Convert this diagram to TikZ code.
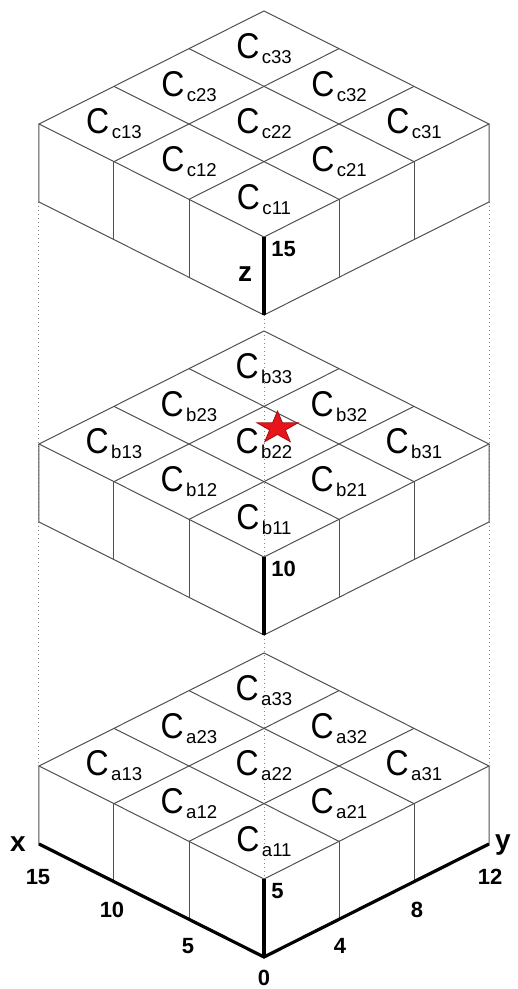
\documentclass[tikz,border=0pt]{standalone}
\usepackage{fontspec}
\setmainfont{Liberation Sans}
\usepackage{graphicx}
\usepackage{tikz}
\definecolor{edg}{HTML}{505050}
\definecolor{strred}{HTML}{E8141B}
\newcommand{\cname}[1]{\scalebox{1}[1.12]{\fontsize{16}{16}\selectfont C}\kern1.2pt\raisebox{-2.5pt}{\fontsize{9.3}{9.3}\selectfont #1}}

\begin{document}
\begin{tikzpicture}[x={(-37.5pt,18.833pt)},y={(37.5pt,18.833pt)},z={(0pt,39pt)},
 edge/.style={edg,line width=0.5pt},
 thk/.style={black,line width=1.6pt},
 hid/.style={edg!70,line width=0.5pt,dash pattern=on 0.5pt off 1.5pt},
 num/.style={font=\bfseries\fontsize{11}{11}\selectfont,inner sep=0pt},
 axl/.style={font=\bfseries\fontsize{14}{14}\selectfont,inner sep=0pt}]
 \useasboundingbox (-132pt,-16pt) rectangle (127pt,478.5pt);
 % corners of the three slabs
 \foreach \s/\h in {a/0,b/161,c/321}{
  \begin{scope}[yshift=\h pt]
   \coordinate (\s-l0) at (3,0,0); \coordinate (\s-l1) at (3,0,1);
   \coordinate (\s-r0) at (0,3,0); \coordinate (\s-r1) at (0,3,1);
   \coordinate (\s-f0) at (0,0,0); \coordinate (\s-f1) at (0,0,1);
  \end{scope}}
 % hidden verticals
 \draw[hid] (c-l0) -- (a-l1);
 \draw[hid] (c-r0) -- (a-r1);
 \draw[hid] (c-f0) -- (a-f1);
 % slabs
 \foreach \s/\h/\zv in {a/0/5,b/161/10,c/321/15}{
  \begin{scope}[yshift=\h pt]
   \draw[edge] (0,0,1) -- (3,0,1) -- (3,3,1) -- (0,3,1) -- cycle;
   \foreach \k in {1,2}{
    \draw[edge] (\k,0,1) -- (\k,3,1);
    \draw[edge] (0,\k,1) -- (3,\k,1);
    \draw[edge] (\k,0,0) -- (\k,0,1);
    \draw[edge] (0,\k,0) -- (0,\k,1);}
   \draw[edge] (3,0,1) -- (3,0,0) -- (0,0,0) -- (0,3,0) -- (0,3,1);
   \draw[thk] (0,0,0) -- (0,0,1);
   \foreach \i in {1,2,3}
    \foreach \j in {1,2,3}
     \node (\s\i\j) at (\j-0.5,\i-0.5,1) {\cname{\s\i\j}};
   \path (0,0,1) ++(3.5pt,-6pt) node[num,anchor=west] (z\zv) {\zv};
  \end{scope}}
 % axes
 \draw[thk] (a-l0) -- (a-f0) -- (a-r0);
 \foreach \t/\v/\dx/\dy in {1/5/-0.5/13.5,2/10/-1/14,3/15/-0.5/16.5}
  \path (\t,0,0) ++(\dx pt,-\dy pt) node[num] (x\v) {\v};
 \foreach \t/\v/\dx/\dy in {1/4/0.5/13.5,2/8/1.5/14,3/12/0.5/16.5}
  \path (0,\t,0) ++(\dx pt,-\dy pt) node[num] (y\v) {\v};
 \path (a-f0) ++(0pt,-10.5pt) node[num] (orig) {0};
 \path (a-l0) ++(-10.5pt,0pt) node[axl] (xlab) {x};
 \path (a-r0) ++(7pt,-0.5pt) node[axl] (ylab) {y};
 \path (0,0,0.5) ++(-9.5pt,322pt) node[axl] (zlab) {z};
 % marked cell
 \coordinate (starpos) at (6.75pt,264.5pt);
 \begin{scope}[shift={(starpos)},yscale=0.78]
  \filldraw[fill=strred,draw=strred!70!black,line width=0.4pt] (90:10.85pt) -- (126:4.15pt) -- (162:10.85pt) -- (198:4.15pt) -- (234:10.85pt) -- (270:4.15pt) -- (306:10.85pt) -- (342:4.15pt) -- (18:10.85pt) -- (54:4.15pt) -- cycle;
 \end{scope}
\end{tikzpicture}
\end{document}
